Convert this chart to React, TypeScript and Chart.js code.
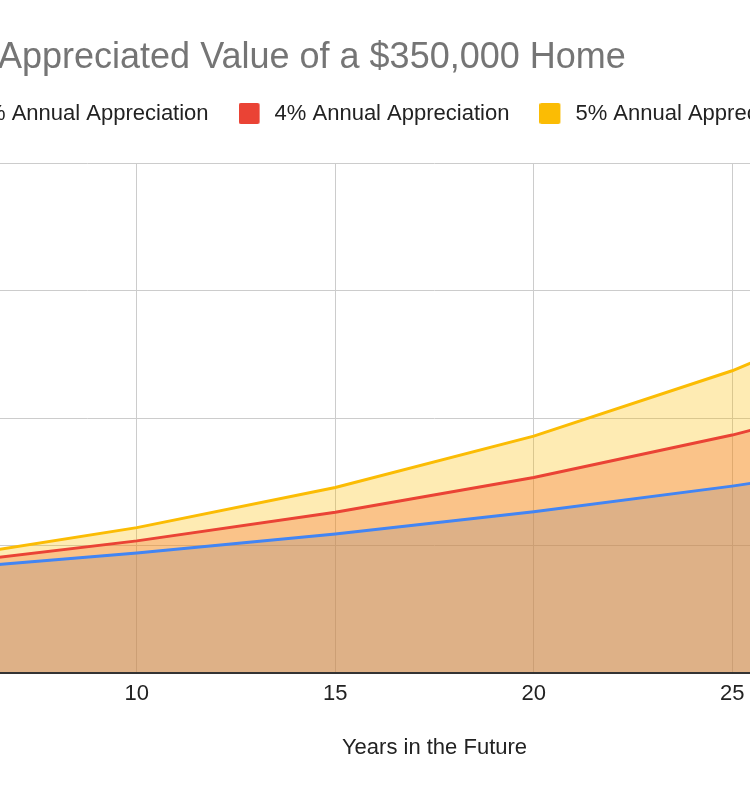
import React, { useEffect, useRef } from 'react';
import { Chart, registerables } from 'chart.js';

Chart.register(...registerables);

const TITLE = 'Appreciated Value of a $350,000 Home';
const X_TITLE = 'Years in the Future';
const FONT = 'Arial, "Liberation Sans", sans-serif';

// years and home values (5 year steps)
const years = [0, 5, 10, 15, 20, 25, 30];
const seriesNames = ['3% Annual Appreciation', '4% Annual Appreciation', '5% Annual Appreciation'];
const value3 = [350000, 405700, 470400, 545300, 632100, 732800, 849500];
const value4 = [350000, 425800, 518100, 630300, 766900, 933000, 1135200];
const value5 = [350000, 446700, 570100, 727600, 928700, 1185200, 1512700];
const lineColors = ['#4285f4', '#ea4335', '#fbbc04'];
const fillColors = ['rgba(66, 133, 244, 0.3)', 'rgba(234, 67, 53, 0.3)', 'rgba(251, 188, 4, 0.3)'];

// extra room between the legend and the plot
const legendSpacing = {
  id: 'legendSpacing',
  beforeInit(chart: any) {
    const originalFit = chart.legend.fit;
    chart.legend.fit = function fit() {
      originalFit.bind(chart.legend)();
      this.height += 28.5;
    };
  },
};

// legend marker: rounded square with a bit of blank space after it
const makeSwatch = (color: string) => {
  const c = document.createElement('canvas');
  c.width = 25;
  c.height = 21;
  const g = c.getContext('2d');
  if (g) {
    g.fillStyle = color;
    g.beginPath();
    g.roundRect(0, 0, 21, 21, 2);
    g.fill();
  }
  return c;
};

const HomeValueChart: React.FC = () => {
  const chartRef = useRef<HTMLCanvasElement | null>(null);
  const chartInstanceRef = useRef<Chart | null>(null);

  useEffect(() => {
    const ctx = chartRef.current;
    if (!ctx) return;

    if (chartInstanceRef.current) {
      chartInstanceRef.current.destroy();
    }

    const series = [value3, value4, value5];
    const swatches = lineColors.map(makeSwatch);

    chartInstanceRef.current = new Chart(ctx, {
      type: 'line',
      data: {
        datasets: series.map((values, i) => ({
          label: seriesNames[i],
          data: values.map((v, j) => ({ x: years[j], y: v })),
          borderColor: lineColors[i],
          backgroundColor: fillColors[i],
          borderWidth: 3,
          fill: 'origin',
          pointRadius: 0,
          tension: 0,
          order: series.length - 1 - i, // 5% area on top, like Sheets
        })),
      },
      options: {
        responsive: false,
        animation: false,
        layout: { padding: { top: 72.5, left: 30, right: 30, bottom: 0 } },
        plugins: {
          filler: { drawTime: 'beforeDatasetsDraw' },
          tooltip: { enabled: false },
          title: { display: false },
          legend: {
            position: 'top',
            labels: {
              usePointStyle: true,
              pointStyleWidth: 25,
              boxHeight: 21,
              padding: 30,
              color: '#222',
              font: { size: 22, family: FONT },
              sort: (a: any, b: any) => a.datasetIndex - b.datasetIndex,
              generateLabels: (chart: any) =>
                Chart.defaults.plugins.legend.labels.generateLabels(chart).map((item: any) => ({
                  ...item,
                  pointStyle: swatches[item.datasetIndex],
                  lineWidth: 0,
                })),
            },
          },
        },
        scales: {
          x: {
            type: 'linear',
            min: 0,
            max: 35,
            ticks: { stepSize: 5, color: '#222', font: { size: 22, family: FONT }, padding: 8 },
            grid: { color: '#cccccc', drawTicks: false },
            border: { color: '#333', width: 2, z: 1 },
            title: {
              display: true,
              text: X_TITLE,
              color: '#222',
              font: { size: 22, family: FONT },
              padding: { top: 0, bottom: 39 },
            },
            afterFit: (scale: any) => {
              scale.height = 127;
            },
          },
          y: {
            min: 0,
            max: 2000000,
            ticks: {
              stepSize: 500000,
              color: '#444',
              font: { size: 22, family: FONT },
              padding: 10,
              callback: (v: any) => '$' + Number(v).toLocaleString('en-US'),
            },
            grid: { color: '#cccccc', drawTicks: false },
            border: { display: false },
            afterFit: (scale: any) => {
              scale.width = 121;
            },
          },
        },
      },
      plugins: [legendSpacing],
    });

    return () => {
      if (chartInstanceRef.current) {
        chartInstanceRef.current.destroy();
        chartInstanceRef.current = null;
      }
    };
  }, []);

  return (
    <div
      style={{
        position: 'fixed',
        left: 0,
        top: 0,
        width: '750px',
        height: '800px',
        overflow: 'hidden',
        background: '#fff',
      }}
    >
      <canvas
        ref={chartRef}
        width={1570}
        height={800}
        style={{ position: 'absolute', left: '-411px', top: 0 }}
      ></canvas>
      <div
        style={{
          position: 'absolute',
          left: '-2px',
          top: '38px',
          fontFamily: FONT,
          fontSize: '36px',
          lineHeight: '36px',
          color: '#757575',
          whiteSpace: 'nowrap',
        }}
      >
        {TITLE}
      </div>
    </div>
  );
};

export default function App() {
  return <HomeValueChart />;
}
